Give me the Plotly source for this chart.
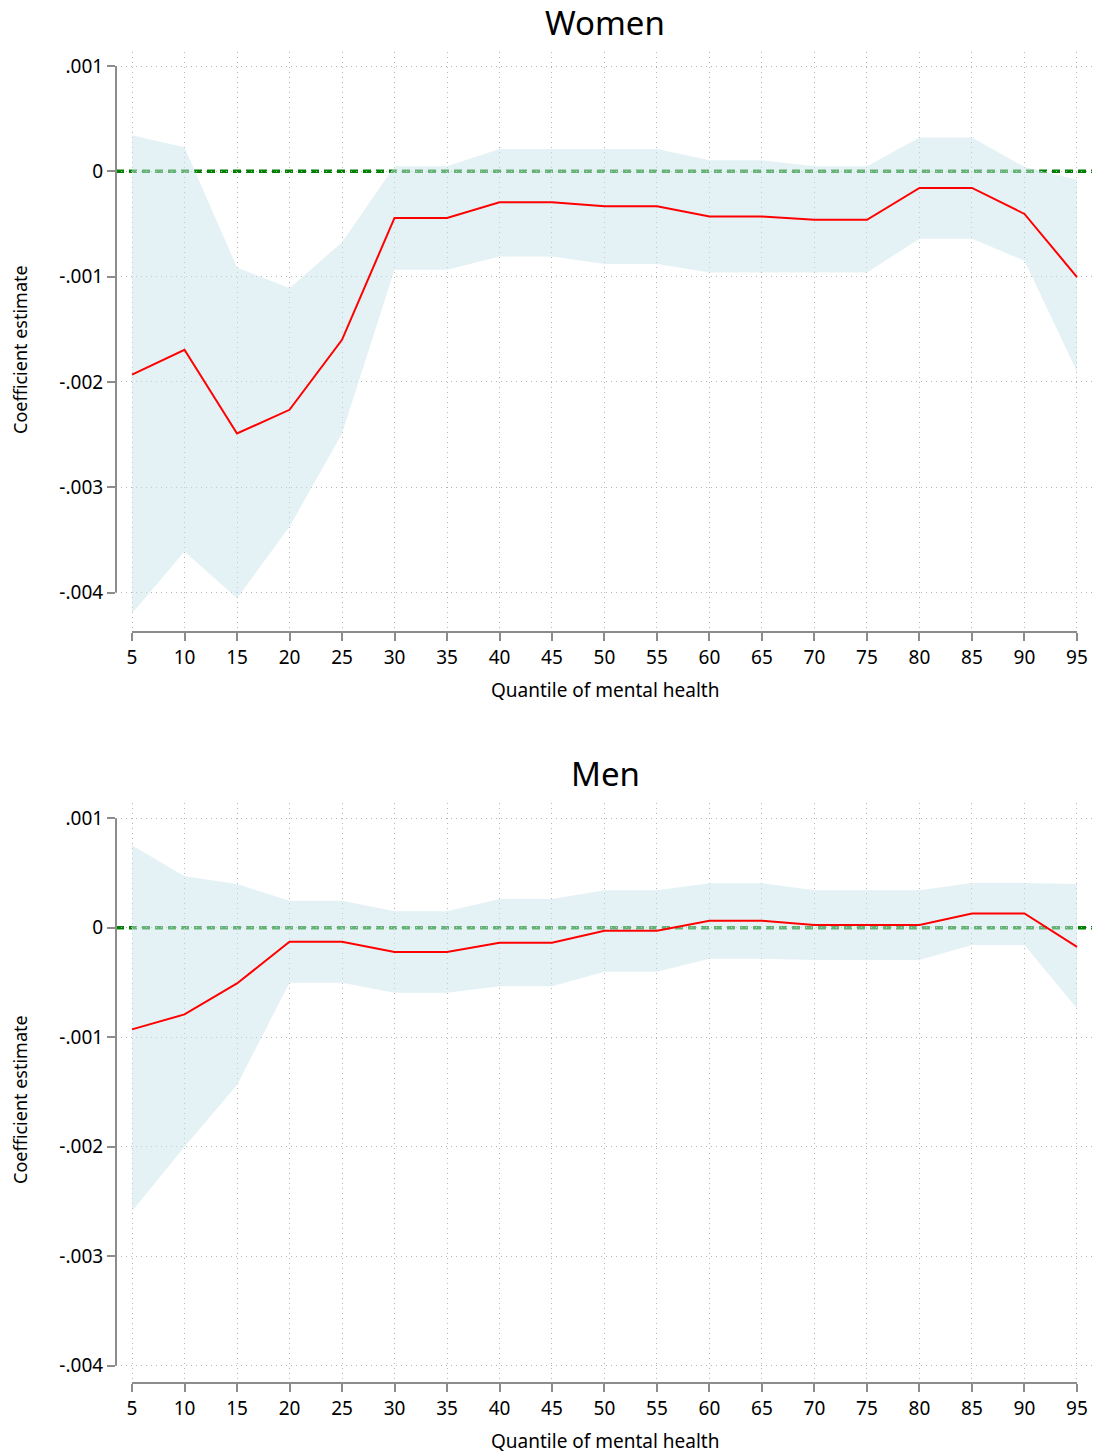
import plotly.graph_objects as go

quantiles = [5, 10, 15, 20, 25, 30, 35, 40, 45, 50, 55, 60, 65, 70, 75, 80, 85, 90, 95]

women_est = [-0.00193, -0.001695, -0.00249, -0.002265, -0.00160, -0.000443, -0.000443, -0.000295, -0.000295,
             -0.000333, -0.000333, -0.00043, -0.00043, -0.00046, -0.00046, -0.000158, -0.000158, -0.000405, -0.001004]
women_hi = [0.000342, 0.000228, -0.000913, -0.00111, -0.000675, 0.000048, 0.000048, 0.000213, 0.000213,
            0.000213, 0.000213, 0.000105, 0.000105, 0.000048, 0.000048, 0.00032, 0.00032, 0.00004, -0.000079]
women_lo = [-0.00420, -0.00361, -0.004055, -0.003375, -0.00249, -0.000934, -0.000934, -0.000808, -0.000808,
            -0.00088, -0.00088, -0.00096, -0.00096, -0.00096, -0.00096, -0.00064, -0.00064, -0.00085, -0.00190]

men_est = [-0.000928, -0.000791, -0.000508, -0.000128, -0.000128, -0.00022, -0.00022, -0.000137, -0.000137,
           -0.000027, -0.000027, 0.000064, 0.000064, 0.000025, 0.000025, 0.000025, 0.000131, 0.000131, -0.000175]
men_hi = [0.000755, 0.000472, 0.00040, 0.000247, 0.000247, 0.000152, 0.000152, 0.000262, 0.000262,
          0.000344, 0.000344, 0.000408, 0.000408, 0.000344, 0.000344, 0.000344, 0.00041, 0.00041, 0.000399]
men_lo = [-0.00259, -0.00200, -0.001437, -0.000502, -0.000502, -0.000593, -0.000593, -0.000535, -0.000535,
          -0.000401, -0.000401, -0.000283, -0.000283, -0.000295, -0.000295, -0.000295, -0.000158, -0.000158, -0.000736]

y_tickvals = [0.001, 0, -0.001, -0.002, -0.003, -0.004]
y_ticktext = [".001", "0", "-.001", "-.002", "-.003", "-.004"]
x_ticks = quantiles

panel_titles = ["Women", "Men"]
x_title = "Quantile of mental health"
y_title = "Coefficient estimate"

W, H = 1094, 1454
FONT = "Noto Sans"
AXIS_GRAY = "#8c8c8c"
GRID_GRAY = "#b4b4b4"
BAND = "rgba(204,229,235,0.5)"


def px_x(p):
    return p / W


def px_y(p):
    return 1 - p / H


fig = go.Figure()

panels = [
    dict(est=women_est, hi=women_hi, lo=women_lo, xa="x", ya="y", top=52, bottom=632,
         yrange=[-0.004375, 0.001133], title_y=22, xt_y=690, yt_y=350),
    dict(est=men_est, hi=men_hi, lo=men_lo, xa="x2", ya="y2", top=803, bottom=1383,
         yrange=[-0.004158, 0.00114], title_y=773, xt_y=1441, yt_y=1100),
]

x_dom = [px_x(116), px_x(1092)]
x_range = [3.476, 96.43]

for i, p in enumerate(panels):
    fig.add_trace(go.Scatter(x=quantiles, y=p["hi"], mode="lines", line=dict(width=0),
                             hoverinfo="skip", showlegend=False, xaxis=p["xa"], yaxis=p["ya"]))
    fig.add_trace(go.Scatter(x=quantiles, y=p["lo"], mode="lines", line=dict(width=0),
                             fill="tonexty", fillcolor=BAND, hoverinfo="skip",
                             showlegend=False, xaxis=p["xa"], yaxis=p["ya"]))
    fig.add_trace(go.Scatter(x=quantiles, y=p["est"], mode="lines", line=dict(color="red", width=2),
                             showlegend=False, xaxis=p["xa"], yaxis=p["ya"]))

    suffix = "" if i == 0 else "2"
    ydom = [px_y(p["bottom"]), px_y(p["top"])]
    fig.update_layout(**{
        "xaxis" + suffix: dict(domain=x_dom, range=x_range, anchor="y" + suffix,
                               tickvals=x_ticks, ticks="outside", ticklen=8, tickwidth=1.5,
                               tickcolor=AXIS_GRAY, showline=False, zeroline=False,
                               showgrid=True, gridcolor=GRID_GRAY, gridwidth=1, griddash="1px,4px",
                               tickfont=dict(family=FONT, size=19, color="black")),
        "yaxis" + suffix: dict(domain=ydom, range=p["yrange"], anchor="x" + suffix,
                               tickvals=y_tickvals, ticktext=y_ticktext, ticks="outside",
                               ticklen=8, tickwidth=1.5, tickcolor=AXIS_GRAY, showline=False,
                               zeroline=False, showgrid=True, gridcolor=GRID_GRAY, gridwidth=1,
                               griddash="1px,4px",
                               tickfont=dict(family=FONT, size=19, color="black")),
    })
    xa, ya = p["xa"], p["ya"]
    # zero reference line (below the band)
    fig.add_shape(type="line", xref=xa + " domain", yref=ya, x0=0, x1=1, y0=0, y1=0,
                  line=dict(color="green", width=3.5, dash="8px,5px"), layer="below")
    # y axis line from first to last tick
    fig.add_shape(type="line", xref=xa + " domain", yref=ya, x0=0, x1=0,
                  y0=min(y_tickvals), y1=max(y_tickvals),
                  line=dict(color=AXIS_GRAY, width=2), layer="above")
    # x axis line from first to last tick
    fig.add_shape(type="line", xref=xa, yref=ya + " domain", x0=min(x_ticks), x1=max(x_ticks),
                  y0=0, y1=0, line=dict(color=AXIS_GRAY, width=2), layer="above")

    fig.add_annotation(text=panel_titles[i], xref="paper", yref="paper", x=px_x(605),
                       y=px_y(p["title_y"]), showarrow=False, xanchor="center", yanchor="middle",
                       font=dict(family=FONT, size=33, color="black"))
    fig.add_annotation(text=x_title, xref="paper", yref="paper", x=px_x(605),
                       y=px_y(p["xt_y"]), showarrow=False, xanchor="center", yanchor="middle",
                       font=dict(family=FONT, size=19, color="black"))
    fig.add_annotation(text=y_title, xref="paper", yref="paper", x=px_x(20),
                       y=px_y(p["yt_y"]), showarrow=False, xanchor="center", yanchor="middle",
                       textangle=-90, font=dict(family=FONT, size=18, color="black"))

fig.update_layout(width=W, height=H, margin=dict(l=0, r=0, t=0, b=0),
                  paper_bgcolor="white", plot_bgcolor="white", showlegend=False,
                  font=dict(family=FONT))

fig.write_html(
    "out.html",
    config={"displayModeBar": False},
    post_script="document.body.style.margin='0';document.body.style.overflow='hidden';"
                "document.documentElement.style.overflow='hidden';",
)
